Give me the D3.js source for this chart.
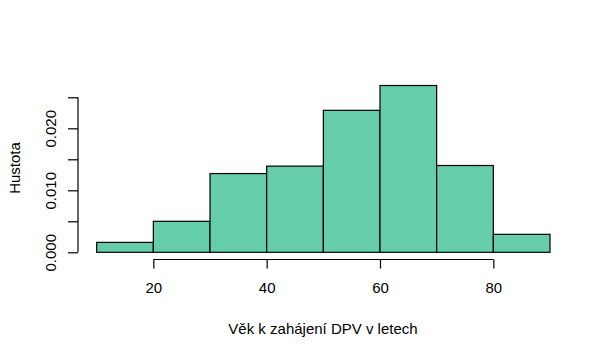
<!DOCTYPE html>
<html>
<head>
<meta charset="utf-8">
<script src="https://cdn.jsdelivr.net/npm/d3@7"></script>
<style>
html,body{margin:0;padding:0;background:#fff;}
text{font-family:"Liberation Sans",Arial,sans-serif;fill:#000;}
</style>
</head>
<body>
<svg id="chart" width="609" height="357"></svg>
<script>
const binStarts = [10, 20, 30, 40, 50, 60, 70, 80];
const binWidth = 10;
const densities = [0.0016, 0.0050, 0.0127, 0.0139, 0.0229, 0.0269, 0.0140, 0.0029];
const xTicks = [20, 40, 60, 80];
const yTicks = [0, 0.005, 0.010, 0.015, 0.020, 0.025];
const yTickLabels = ["0.000", "", "0.010", "", "0.020", ""];
const xLabel = "Věk k zahájení DPV v letech";
const yLabel = "Hustota";

const svg = d3.select("#chart");
const x = d3.scaleLinear().domain([10, 90]).range([96.67, 550]);
const y = d3.scaleLinear().domain([0, 0.025]).range([252.3, 97.3]);

svg.append("rect").attr("width",609).attr("height",357).attr("fill","#fff");

svg.append("g").selectAll("rect")
  .data(binStarts.map((s,i)=>({s, d: densities[i]})))
  .join("rect")
  .attr("x", d => x(d.s))
  .attr("y", d => y(d.d))
  .attr("width", d => x(d.s + binWidth) - x(d.s))
  .attr("height", d => y(0) - y(d.d))
  .attr("fill", "#66CDAA")
  .attr("stroke", "#000")
  .attr("stroke-width", 1.2);

// x axis
const xAxis = d3.axisBottom(x).tickValues(xTicks).tickSize(9).tickPadding(14).tickFormat(d3.format("d"));
const gx = svg.append("g").attr("transform", "translate(0,259.5)").call(xAxis);
gx.select(".domain").attr("d", `M${x(20)},0H${x(80)}`).attr("stroke","#000").attr("stroke-width",1.2);
gx.selectAll(".tick line").attr("stroke","#000").attr("stroke-width",1.2);
gx.selectAll(".tick text").attr("font-size", 15).attr("font-family","Liberation Sans, Arial, sans-serif").attr("fill","#000");

// y axis
const yAxis = d3.axisLeft(y).tickValues(yTicks).tickSize(10).tickFormat((d,i)=>yTickLabels[i]);
const gy = svg.append("g").attr("transform", "translate(78,0)").call(yAxis);
gy.select(".domain").attr("d", `M0,${y(0)}V${y(0.025)}`).attr("stroke","#000").attr("stroke-width",1.2);
gy.selectAll(".tick line").attr("stroke","#000").attr("stroke-width",1.2);
gy.selectAll(".tick text")
  .attr("font-size", 15)
  .attr("font-family","Liberation Sans, Arial, sans-serif")
  .attr("fill","#000")
  .attr("text-anchor","middle")
  .attr("dy", null)
  .attr("x", null)
  .attr("transform", "translate(-22,0) rotate(-90)");

svg.append("text")
  .attr("x", 323).attr("y", 334)
  .attr("text-anchor","middle")
  .attr("font-size", 15)
  .text(xLabel);

svg.append("text")
  .attr("transform", "translate(20,168) rotate(-90)")
  .attr("text-anchor","middle")
  .attr("font-size", 15)
  .text(yLabel);
</script>
</body>
</html>
